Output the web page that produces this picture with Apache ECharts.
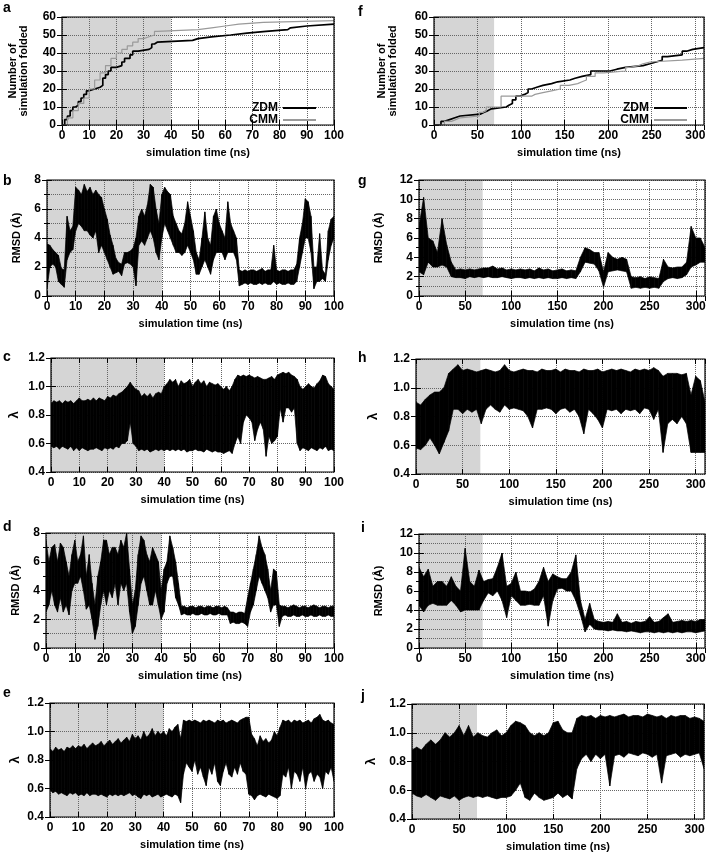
<!DOCTYPE html>
<html><head><meta charset="utf-8">
<script src="https://cdn.jsdelivr.net/npm/echarts@6/dist/echarts.min.js"></script>
<style>html,body{margin:0;padding:0;background:#fff}#c{width:709px;height:858px}</style>
</head><body><div id="c"></div><script>
// ---------- DATA ----------
// sampling times (ns)
const tLeft = []; for (let i = 0; i <= 100; i++) tLeft.push(i);
const tRight = []; for (let i = 0; i <= 310; i += 5) tRight.push(i);

// Panel a: cumulative number of folded simulations [time, count]
const zdmA = [[0,0],[1,3],[2,5],[3,8],[4,10],[5,11],[6,13],[7,15],[8,17],[9,19],[10,20],[12,21],[14,22],[15,26],[16,28],[17,30],[18,32],[20,33],[22,35],[23,37],[25,39],[26,41],[28,42],[32,43],[33,45],[34,46],[35,47],[48,48],[50,49],[55,50],[62,51],[68,52],[75,53],[83,54],[84,55],[90,56],[100,56]];
const cmmA = [[0,0],[2,4],[4,8],[6,12],[8,15],[10,20],[12,25],[14,29],[16,33],[18,37],[20,40],[22,42],[24,44],[26,46],[28,48],[30,49],[32,50],[34,52],[35,53],[50,54],[55,55],[60,56],[65,57],[74,58],[100,58]];
// Panel f
const zdmF = [[0,0],[5,0],[8,2],[12,3],[18,4],[24,5],[30,6],[53,7],[57,8],[62,9],[66,10],[83,11],[86,12],[90,14],[94,16],[98,17],[104,18],[108,20],[112,21],[118,22],[125,23],[135,24],[142,25],[156,26],[162,27],[170,28],[180,30],[202,31],[210,32],[220,33],[240,34],[248,35],[255,36],[262,38],[268,39],[285,41],[290,42],[297,43],[310,43]];
const cmmF = [[0,0],[5,0],[12,2],[20,3],[25,4],[30,5],[52,7],[56,8],[60,10],[77,16],[112,17],[116,18],[125,19],[135,20],[145,22],[155,23],[165,24],[170,25],[175,27],[185,29],[195,30],[220,32],[225,33],[235,34],[240,35],[248,36],[285,37],[310,37]];

// Panel b: RMSD envelope (low / high) per ns
const bLo = [0.5,2.0,2.2,2.0,1.0,0.8,0.6,2.5,3.0,3.2,
 4.5,5.0,4.8,4.5,4.5,4.2,4.0,4.5,3.0,3.5,
 3.0,2.5,2.0,1.5,1.6,1.7,1.4,2.2,2.3,2.2,
 2.0,0.7,3.5,3.8,3.5,4.0,4.5,4.0,3.0,2.5,
 4.0,5.0,4.5,4.0,3.5,3.0,3.0,2.8,3.0,3.5,
 3.0,2.5,1.5,1.5,2.0,2.5,2.0,1.5,2.5,3.0,
 3.0,3.0,2.5,3.0,3.0,3.0,2.5,0.7,0.8,0.9,
 0.8,0.9,0.8,0.8,0.9,0.8,0.9,0.8,0.8,1.0,
 0.8,0.9,0.8,0.8,0.9,0.8,0.8,1.0,2.0,3.0,
 4.0,4.0,3.0,0.5,1.0,1.0,1.2,1.0,2.5,3.5,
 4.0];
const bHi = [3.6,3.5,3.2,3.0,2.8,1.9,1.8,5.5,4.5,4.8,
 7.5,7.3,7.0,7.7,7.2,7.5,7.0,7.3,7.0,6.8,
 6.0,5.3,4.2,3.5,2.6,2.3,2.2,3.0,3.0,3.1,
 3.3,4.0,5.5,6.0,5.5,6.3,7.7,7.5,6.0,5.0,
 7.0,7.5,7.2,7.0,5.5,5.0,4.5,4.3,5.0,6.5,
 5.5,4.5,3.0,2.5,4.0,5.8,4.0,3.5,5.5,6.0,
 5.0,4.5,4.0,6.5,5.0,4.5,4.0,1.8,1.7,1.8,
 1.7,1.8,1.8,1.7,1.8,1.9,1.7,1.8,1.8,3.5,
 1.8,1.7,1.8,1.8,1.7,1.8,1.8,2.2,4.0,5.0,
 6.7,6.5,5.5,2.0,2.0,4.3,1.8,1.5,4.5,5.3,
 5.5];

// Panel c: lambda envelope per ns
const cLo = [.58,.57,.58,.56,.58,.57,.56,.58,.55,.57,
 .55,.57,.56,.55,.56,.56,.57,.56,.55,.57,
 .56,.57,.56,.58,.57,.6,.6,.62,.75,.6,
 .58,.55,.56,.55,.56,.54,.55,.56,.55,.56,
 .55,.56,.55,.56,.55,.56,.55,.56,.54,.55,
 .55,.56,.55,.55,.54,.56,.55,.54,.55,.54,
 .54,.53,.54,.55,.53,.6,.65,.6,.75,.8,
 .78,.75,.62,.7,.75,.7,.51,.65,.6,.62,
 .65,.85,.75,.85,.85,.82,.85,.6,.55,.57,
 .56,.55,.57,.56,.55,.57,.56,.58,.55,.56,
 .55];
const cHi = [.88,.9,.89,.9,.88,.9,.89,.9,.88,.9,
 .92,.9,.9,.91,.9,.92,.9,.92,.91,.9,
 .93,.92,.94,.93,.95,.96,.98,1.0,1.03,1.0,
 .98,.97,.93,.95,.93,.95,.92,.95,.96,.95,
 1.0,1.02,1.05,1.03,1.05,1.0,1.04,1.02,1.03,1.05,
 1.0,1.03,1.05,1.02,1.04,1.0,1.03,1.02,1.01,1.02,
 1.0,.98,1.0,.97,1.0,1.05,1.08,1.07,1.08,1.07,
 1.08,1.07,1.06,1.07,1.06,1.05,1.05,1.06,1.07,1.05,
 1.08,1.09,1.1,1.09,1.1,1.08,1.07,1.05,1.0,.98,
 1.0,1.02,1.0,.99,1.02,1.04,1.08,1.07,1.02,1.0,
 .98];

// Panel d: RMSD envelope per ns
const dLo = [2.5,3.0,4.0,3.0,2.5,3.5,2.5,3.0,2.3,4.0,
 4.5,4.5,5.0,4.0,2.7,3.0,2.0,0.6,1.5,3.0,
 4.0,3.0,4.0,3.5,4.5,3.0,4.5,4.0,4.5,2.5,
 1.0,1.5,3.0,4.5,5.0,4.0,3.0,3.0,4.0,3.0,
 2.0,2.5,4.5,5.0,5.0,3.5,3.0,2.3,2.4,2.3,
 2.3,2.4,2.3,2.3,2.4,2.3,2.3,2.4,2.3,2.3,
 2.4,2.3,2.3,2.3,1.7,1.8,1.7,1.7,1.8,1.7,
 1.5,2.5,3.0,4.0,5.0,4.5,4.0,3.5,2.5,3.0,
 3.0,1.5,2.2,2.3,2.2,2.2,2.3,2.2,2.2,2.3,
 2.2,2.2,2.3,2.2,2.2,2.3,2.2,2.2,2.3,2.2,
 2.2];
const dHi = [7.5,6.0,7.0,7.2,6.0,7.3,7.0,6.0,5.0,6.5,
 7.5,6.0,6.5,7.8,5.0,6.5,4.5,3.0,5.0,6.0,
 7.5,7.5,6.5,7.0,7.0,6.5,7.5,7.0,8.0,5.5,
 3.0,4.0,6.5,7.8,7.5,6.5,6.0,7.0,6.5,6.0,
 4.0,5.5,6.0,7.8,7.0,6.0,4.5,2.9,2.9,2.8,
 2.9,2.9,2.8,2.9,2.9,2.8,2.9,2.9,2.8,2.9,
 2.9,2.8,2.9,2.8,2.5,2.5,2.4,2.5,2.5,2.4,
 3.5,4.5,5.5,6.5,7.8,7.0,6.5,5.5,4.0,5.5,
 5.3,3.0,2.9,2.9,2.8,2.9,3.0,2.9,2.8,2.9,
 2.9,2.8,2.9,3.0,2.9,2.8,2.9,2.9,2.8,2.9,
 2.9];

// Panel e: lambda envelope per ns
const eLo = [.59,.57,.58,.56,.57,.56,.55,.57,.56,.57,
 .55,.56,.55,.57,.55,.56,.56,.55,.56,.55,
 .54,.56,.55,.56,.55,.56,.55,.56,.57,.55,
 .56,.54,.53,.56,.55,.56,.54,.55,.56,.54,
 .55,.56,.55,.54,.56,.55,.5,.7,.78,.75,
 .72,.8,.7,.75,.68,.62,.75,.7,.78,.65,
 .62,.72,.78,.7,.68,.75,.7,.78,.72,.7,
 .56,.55,.52,.55,.56,.55,.54,.56,.55,.54,
 .53,.55,.7,.68,.75,.6,.72,.7,.65,.75,
 .6,.7,.72,.65,.7,.68,.6,.72,.7,.75,
 .65];
const eHi = [.88,.86,.89,.87,.88,.86,.89,.88,.9,.88,
 .9,.89,.91,.88,.9,.92,.9,.91,.93,.9,
 .92,.94,.91,.93,.95,.92,.94,.96,.93,.98,
 .95,.97,.94,1.0,.96,.98,1.02,.97,1.0,.98,
 1.0,.97,1.02,1.0,1.03,1.05,.95,1.08,1.07,1.08,
 1.07,1.08,1.07,1.06,1.08,1.07,1.08,1.07,1.06,1.08,
 1.07,1.08,1.06,1.07,1.08,1.07,1.06,1.08,1.09,1.1,
 1.1,.98,.95,.9,.97,.93,.95,.92,.94,1.0,
 .97,1.03,1.08,1.07,1.08,1.06,1.08,1.07,1.08,1.06,
 1.07,1.08,1.06,1.09,1.1,1.12,1.08,1.07,1.08,1.06,
 1.05];

// Panel g: RMSD envelope every 5 ns
const gLo = [2.5,2.2,3.5,3.0,3.0,3.2,3.0,2.0,1.9,1.9,1.8,2.0,1.9,2.0,1.9,2.0,1.9,1.9,2.0,1.9,1.8,1.9,1.9,1.8,1.9,1.8,1.9,1.8,1.9,1.8,1.8,1.9,1.8,1.9,1.8,2.5,3.5,3.4,3.3,2.6,0.9,2.5,2.6,2.7,2.6,2.5,0.8,0.9,0.8,0.9,0.8,0.9,0.8,1.5,1.8,1.9,1.8,1.9,2.2,3.0,3.2,3.5,3.5];
const gHi = [7.2,10.2,6.0,5.7,4.5,8.0,5.3,3.5,2.7,2.8,2.7,2.8,2.7,2.8,2.9,2.9,3.1,2.8,2.9,2.7,2.8,2.7,2.8,2.7,2.8,2.6,2.9,2.7,2.8,2.6,2.7,2.8,2.6,2.7,2.6,4.0,5.0,4.8,4.5,4.5,2.5,4.5,4.0,3.8,4.0,3.8,2.0,1.9,2.0,1.8,2.0,1.9,1.8,3.8,3.0,2.9,3.0,3.0,3.5,7.2,6.0,6.0,5.0];

// Panel h: lambda envelope every 5 ns
const hLo = [.58,.57,.6,.65,.6,.54,.62,.7,.85,.85,.82,.85,.83,.85,.75,.85,.88,.85,.83,.88,.85,.86,.85,.84,.8,.72,.85,.85,.86,.85,.82,.85,.86,.83,.85,.8,.68,.85,.82,.78,.72,.85,.84,.85,.82,.85,.84,.85,.82,.86,.85,.78,.85,.55,.75,.78,.75,.8,.75,.55,.55,.55,.55];
const hHi = [.9,.88,.92,.95,.97,.97,1.0,1.1,1.13,1.16,1.12,1.13,1.12,1.11,1.12,1.13,1.12,1.11,1.12,1.16,1.12,1.11,1.12,1.13,1.12,1.12,1.11,1.13,1.12,1.12,1.13,1.11,1.13,1.12,1.12,1.11,1.13,1.12,1.12,1.13,1.11,1.12,1.13,1.12,1.13,1.12,1.11,1.13,1.12,1.13,1.12,1.14,1.12,1.08,1.1,1.1,1.1,1.09,1.1,.95,1.08,1.05,.9];

// Panel i: RMSD envelope every 5 ns
const iLo = [4.5,3.8,4.5,4.7,4.5,4.5,4.5,5.0,4.5,3.8,4.0,4.0,4.0,4.0,5.0,5.8,5.5,6.0,5.0,3.2,5.5,5.0,4.5,4.5,4.6,4.5,4.5,5.5,2.3,5.0,6.2,6.3,6.0,6.0,5.0,3.5,1.7,2.5,2.0,1.9,1.9,1.8,1.9,1.8,1.8,1.7,1.8,1.7,1.6,1.7,1.7,1.6,1.7,1.6,1.7,1.6,1.7,1.6,1.7,1.7,1.6,1.7,1.8];
const iHi = [8.5,7.5,8.3,6.5,7.0,7.0,6.5,7.5,6.5,6.0,10.5,7.0,6.5,8.2,7.0,7.2,7.3,8.5,10.0,6.5,6.8,8.0,6.0,6.0,5.9,6.2,7.0,8.5,7.0,7.8,7.5,7.3,7.3,8.0,9.8,5.0,3.0,4.7,3.0,2.8,2.7,2.8,2.7,3.6,2.7,2.8,2.6,2.8,2.7,2.8,3.3,2.7,2.8,3.2,3.6,2.7,2.8,2.9,2.8,2.9,2.8,3.0,3.0];

// Panel j: lambda envelope every 5 ns
const jLo = [.58,.56,.55,.57,.55,.53,.56,.55,.54,.56,.53,.55,.56,.55,.56,.55,.56,.55,.54,.55,.55,.56,.6,.65,.55,.53,.58,.55,.53,.54,.55,.58,.55,.57,.54,.75,.82,.85,.8,.85,.82,.85,.63,.84,.85,.83,.86,.85,.84,.86,.85,.83,.85,.65,.84,.85,.86,.83,.85,.84,.85,.86,.75];
const jHi = [.88,.9,.88,.92,.95,.92,.95,1.0,.97,1.0,1.05,.98,1.05,.97,1.0,.98,.97,1.0,1.02,.98,1.0,1.05,1.08,1.07,1.05,1.0,.98,1.0,.98,1.0,1.07,1.08,1.02,1.0,1.0,1.1,1.12,1.11,1.12,1.1,1.12,1.11,1.12,1.11,1.12,1.13,1.11,1.12,1.12,1.11,1.13,1.12,1.11,1.12,1.1,1.12,1.11,1.12,1.12,1.1,1.11,1.1,1.08];

// ---------- LAYOUT ----------
const FONT = '"Liberation Sans", Arial, Helvetica, sans-serif';
const XTITLE = 'simulation time (ns)';
const panels = [
 {L:'a', g:{left:62,top:17,width:272,height:108}, xMax:100, xInt:10, y:[0,60,10], yName:'Number of\nsimulation folded', yGap:33, shade:40, kind:'count', zdm:zdmA, cmm:cmmA, lt:[3,1]},
 {L:'b', g:{left:47,top:180,width:287,height:116}, xMax:100, xInt:10, y:[0,8,2], yName:'RMSD (Å)', yGap:25, shade:40, kind:'rmsd', t:tLeft, lo:bLo, hi:bHi, lt:[3,174]},
 {L:'c', g:{left:51,top:358,width:283,height:114}, xMax:100, xInt:10, y:[0.4,1.2,0.2], yName:'λ', yGap:31, shade:40, kind:'lam', t:tLeft, lo:cLo, hi:cHi, lt:[3,350]},
 {L:'d', g:{left:46,top:533,width:288,height:115}, xMax:100, xInt:10, y:[0,8,2], yName:'RMSD (Å)', yGap:25, shade:40, kind:'rmsd', t:tLeft, lo:dLo, hi:dHi, lt:[3,520]},
 {L:'e', g:{left:50,top:703,width:284,height:114}, xMax:100, xInt:10, y:[0.4,1.2,0.2], yName:'λ', yGap:29, shade:40, kind:'lam', t:tLeft, lo:eLo, hi:eHi, lt:[3,686]},
 {L:'f', g:{left:434,top:17,width:270,height:108}, xMax:310, xInt:50, y:[0,60,10], yName:'Number of\nsimulation folded', yGap:36, shade:69, kind:'count', zdm:zdmF, cmm:cmmF, lt:[358,5]},
 {L:'g', g:{left:419,top:180,width:286,height:116}, xMax:310, xInt:50, y:[0,12,2], yName:'RMSD (Å)', yGap:35, shade:69, kind:'rmsd', t:tRight, lo:gLo, hi:gHi, lt:[358,174]},
 {L:'h', g:{left:416,top:359,width:289,height:115}, xMax:310, xInt:50, y:[0.4,1.2,0.2], yName:'λ', yGap:37, shade:69, kind:'lam', t:tRight, lo:hLo, hi:hHi, lt:[358,351]},
 {L:'i', g:{left:419,top:534,width:286,height:114}, xMax:310, xInt:50, y:[0,12,2], yName:'RMSD (Å)', yGap:35, shade:69, kind:'rmsd', t:tRight, lo:iLo, hi:iHi, lt:[361,521]},
 {L:'j', g:{left:412,top:704,width:292,height:115}, xMax:310, xInt:50, y:[0.4,1.2,0.2], yName:'λ', yGap:35, shade:69, kind:'lam', t:tRight, lo:jLo, hi:jHi, lt:[361,689]}
];

const grids = [], xAxes = [], yAxes = [], series = [], graphics = [];
const mirrorX = [], mirrorY = [];
const tickStyle = {color:'#000', fontSize:12, fontWeight:'bold', fontFamily:FONT};
const nameStyle = {color:'#000', fontSize:11, fontWeight:'bold', fontFamily:FONT};
const split = {show:true, lineStyle:{type:'dotted', color:'#666', width:1}};
const tickIn = {inside:true, length:5, lineStyle:{color:'#000'}};

// band renderer: one quad between consecutive samples, positioned by the axes
function renderBand(params, api) {
  const p0 = api.coord([api.value(0), api.value(1)]);
  const p1 = api.coord([api.value(3), api.value(4)]);
  const p2 = api.coord([api.value(3), api.value(5)]);
  const p3 = api.coord([api.value(0), api.value(2)]);
  return {type:'polygon', shape:{points:[p0, p1, p2, p3]},
    style:{fill:'#000', stroke:'#000', lineWidth:0.7}};
}

panels.forEach((p, k) => {
  grids.push(Object.assign({show:true, borderColor:'#000', borderWidth:1.2, backgroundColor:'transparent', z:4}, p.g));
  xAxes.push({gridIndex:k, type:'value', min:0, max:p.xMax, interval:p.xInt, z:2,
    name:XTITLE, nameLocation:'middle', nameGap:22, nameTextStyle:nameStyle,
    axisLine:{show:false}, axisTick:tickIn,
    axisLabel:Object.assign({margin:5, showMaxLabel:p.xMax % p.xInt === 0}, tickStyle),
    splitLine:split});
  mirrorX.push({gridIndex:k, type:'value', position:'top', min:0, max:p.xMax, interval:p.xInt, z:2,
    axisLine:{show:false}, axisTick:tickIn, axisLabel:{show:false}, splitLine:{show:false}});
  const isLam = p.kind === 'lam';
  const ya = {gridIndex:k, type:'value', min:p.y[0], max:p.y[1], interval:p.y[2], z:2,
    name:p.yName, nameLocation:'middle', nameGap:p.yGap,
    nameTextStyle:Object.assign({lineHeight:11}, nameStyle, isLam ? {fontSize:13} : {}),
    axisLine:{show:false}, axisTick:tickIn,
    axisLabel:Object.assign({margin:6, formatter: isLam ? (v => v.toFixed(1)) : (v => String(v))}, tickStyle),
    splitLine:split};
  const ym = {gridIndex:k, type:'value', position:'right', min:p.y[0], max:p.y[1], interval:p.y[2], z:2,
    axisLine:{show:false}, axisTick:tickIn, axisLabel:{show:false}, splitLine:{show:false}};
  if (p.kind === 'rmsd') {
    ya.minorTick = {show:true, splitNumber:2, length:3, lineStyle:{color:'#000'}};
    ya.minorSplitLine = {show:true, lineStyle:{type:'dotted', color:'#666', width:1}};
    ym.minorTick = {show:true, splitNumber:2, length:3, lineStyle:{color:'#000'}};
  }
  yAxes.push(ya);
  mirrorY.push(ym);

  // shaded window
  series.push({type:'line', xAxisIndex:k, yAxisIndex:k, data:[], silent:true,
    markArea:{silent:true, z:1, itemStyle:{color:'#d5d5d5'},
      data:[[{coord:[0, p.y[0]]}, {coord:[p.shade, p.y[1]]}]]}});

  if (p.kind === 'count') {
    series.push({name:'ZDM', type:'line', step:'end', xAxisIndex:k, yAxisIndex:k, data:p.zdm,
      symbol:'none', z:3, color:'#000', lineStyle:{color:'#000', width:1.7}});
    series.push({name:'CMM', type:'line', step:'end', xAxisIndex:k, yAxisIndex:k, data:p.cmm,
      symbol:'none', z:3, color:'#9a9a9a', lineStyle:{color:'#9a9a9a', width:1.2}});
  } else {
    const items = [];
    for (let i = 0; i < p.t.length - 1; i++) {
      items.push([p.t[i], p.lo[i], p.hi[i], p.t[i + 1], p.lo[i + 1], p.hi[i + 1]]);
    }
    series.push({type:'custom', xAxisIndex:k, yAxisIndex:k, z:3, silent:true, clip:true,
      renderItem:renderBand, encode:{x:[0, 3], y:[1, 2, 4, 5]}, data:items});
  }
  graphics.push({type:'text', left:p.lt[0], top:p.lt[1],
    style:{text:p.L, font:'bold 14px ' + FONT, fill:'#000'}});
});

const legendBase = {orient:'vertical', align:'right', icon:'rect', itemWidth:33, itemHeight:2, itemGap:0,
  textStyle:{color:'#000', fontSize:12, fontWeight:'bold', fontFamily:FONT, padding:[0,0,0,0], lineHeight:12},
  data:['ZDM','CMM'], selectedMode:false};
const option = {
  animation:false,
  backgroundColor:'#fff',
  grid:grids, xAxis:xAxes.concat(mirrorX), yAxis:yAxes.concat(mirrorY), series:series,
  legend:[Object.assign({right:388, top:97}, legendBase), Object.assign({right:17, top:97}, legendBase)],
  graphic:graphics
};
const chart = echarts.init(document.getElementById('c'), null, {renderer:'canvas'});
chart.setOption(option);
</script></body></html>
